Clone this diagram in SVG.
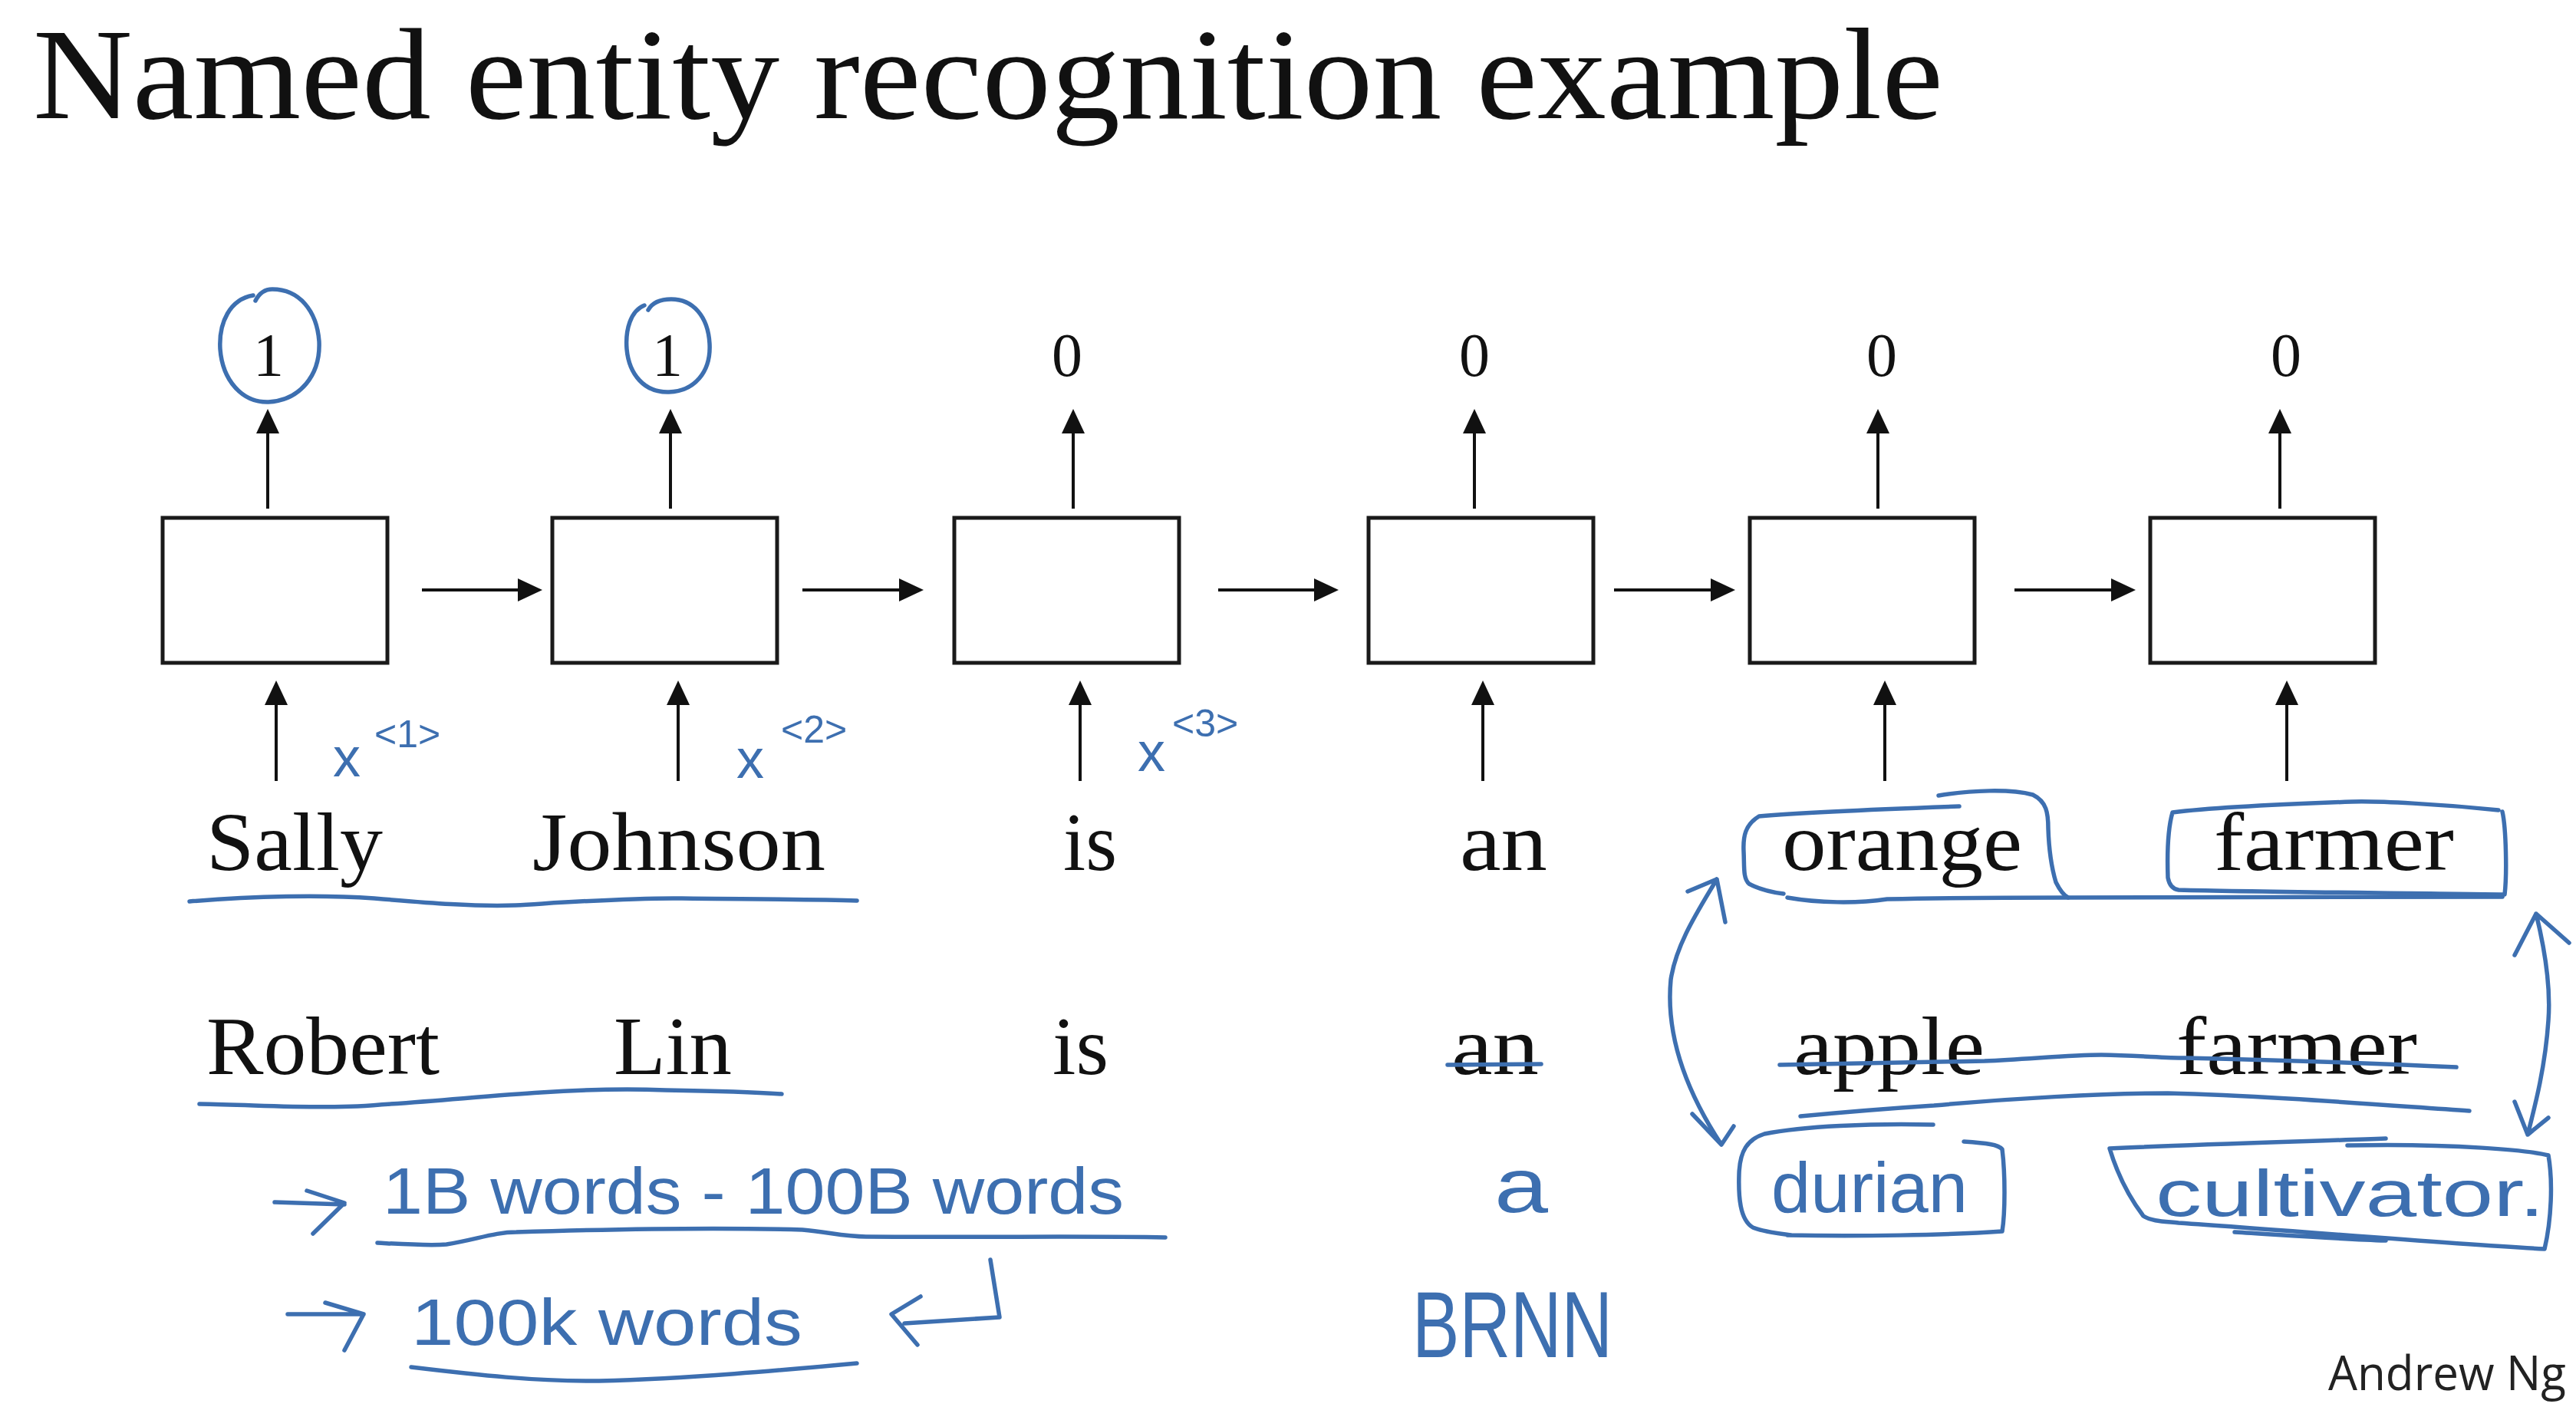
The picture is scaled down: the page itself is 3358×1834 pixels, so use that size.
<svg xmlns="http://www.w3.org/2000/svg" width="3358" height="1834" viewBox="0 0 3358 1834">
<style>
.serif{font-family:"Liberation Serif","DejaVu Serif",serif;fill:#111}
.box{fill:#fff;stroke:#1a1a1a;stroke-width:5}
.ln{stroke:#111;stroke-width:4;fill:none}
.ink{fill:none;stroke:#3d6fb0;stroke-width:5.5;stroke-linecap:round;stroke-linejoin:round}
.hand{font-family:"Liberation Sans","DejaVu Sans",sans-serif;fill:#3d6fb0}
</style>
<defs>
<marker id="ah" viewBox="0 0 32 30" refX="28" refY="15" markerWidth="32" markerHeight="30" markerUnits="userSpaceOnUse" orient="auto">
<path d="M0,0 L32,15 L0,30 z" fill="#111"/>
</marker>
</defs>
<rect width="3358" height="1834" fill="#fff"/>
<text id="title" class="serif" x="43" y="154" font-size="170" textLength="2490" lengthAdjust="spacingAndGlyphs">Named entity recognition example</text>

<g id="cell1"><rect class="box" x="212" y="675" width="293" height="189"/></g>
<g id="cell2"><rect class="box" x="720" y="675" width="293" height="189"/></g>
<g id="cell3"><rect class="box" x="1244" y="675" width="293" height="189"/></g>
<g id="cell4"><rect class="box" x="1784" y="675" width="293" height="189"/></g>
<g id="cell5"><rect class="box" x="2281" y="675" width="293" height="189"/></g>
<g id="cell6"><rect class="box" x="2803" y="675" width="293" height="189"/></g>

<g id="outputs" class="serif" font-size="80" text-anchor="middle">
<text x="350" y="490">1</text>
<text x="870" y="490">1</text>
<text x="1391" y="490">0</text>
<text x="1922" y="490">0</text>
<text x="2453" y="490">0</text>
<text x="2980" y="490">0</text>
</g>

<g id="connectors">
<line class="ln" x1="349" y1="663" x2="349" y2="537" marker-end="url(#ah)"/>
<line class="ln" x1="874" y1="663" x2="874" y2="537" marker-end="url(#ah)"/>
<line class="ln" x1="1399" y1="663" x2="1399" y2="537" marker-end="url(#ah)"/>
<line class="ln" x1="1922" y1="663" x2="1922" y2="537" marker-end="url(#ah)"/>
<line class="ln" x1="2448" y1="663" x2="2448" y2="537" marker-end="url(#ah)"/>
<line class="ln" x1="2972" y1="663" x2="2972" y2="537" marker-end="url(#ah)"/>
<line class="ln" x1="550" y1="769" x2="703" y2="769" marker-end="url(#ah)"/>
<line class="ln" x1="1046" y1="769" x2="1200" y2="769" marker-end="url(#ah)"/>
<line class="ln" x1="1588" y1="769" x2="1741" y2="769" marker-end="url(#ah)"/>
<line class="ln" x1="2104" y1="769" x2="2258" y2="769" marker-end="url(#ah)"/>
<line class="ln" x1="2626" y1="769" x2="2780" y2="769" marker-end="url(#ah)"/>
<line class="ln" x1="360" y1="1018" x2="360" y2="891" marker-end="url(#ah)"/>
<line class="ln" x1="884" y1="1018" x2="884" y2="891" marker-end="url(#ah)"/>
<line class="ln" x1="1408" y1="1018" x2="1408" y2="891" marker-end="url(#ah)"/>
<line class="ln" x1="1933" y1="1018" x2="1933" y2="891" marker-end="url(#ah)"/>
<line class="ln" x1="2457" y1="1018" x2="2457" y2="891" marker-end="url(#ah)"/>
<line class="ln" x1="2981" y1="1018" x2="2981" y2="891" marker-end="url(#ah)"/>
</g>

<g id="words1" class="serif" font-size="108">
<text x="269" y="1134" textLength="230" lengthAdjust="spacingAndGlyphs">Sally</text>
<text x="694" y="1134" textLength="382" lengthAdjust="spacingAndGlyphs">Johnson</text>
<text x="1386" y="1134" textLength="70" lengthAdjust="spacingAndGlyphs">is</text>
<text x="1903" y="1134" textLength="114" lengthAdjust="spacingAndGlyphs">an</text>
<text x="2323" y="1134" textLength="313" lengthAdjust="spacingAndGlyphs">orange</text>
<text x="2886" y="1134" textLength="313" lengthAdjust="spacingAndGlyphs">farmer</text>
</g>
<g id="words2" class="serif" font-size="108">
<text x="269" y="1400" textLength="304" lengthAdjust="spacingAndGlyphs">Robert</text>
<text x="800" y="1400" textLength="154" lengthAdjust="spacingAndGlyphs">Lin</text>
<text x="1372" y="1400" textLength="73" lengthAdjust="spacingAndGlyphs">is</text>
<text x="1892" y="1400" textLength="114" lengthAdjust="spacingAndGlyphs">an</text>
<text x="2338" y="1400" textLength="249" lengthAdjust="spacingAndGlyphs">apple</text>
<text x="2837" y="1400" textLength="314" lengthAdjust="spacingAndGlyphs">farmer</text>
</g>

<g id="annotations">
<path class="ink" d="M330,385 C300,390 285,420 287,455 C290,495 315,525 350,524 C390,522 418,490 416,445 C413,405 390,377 355,377 C345,377 338,382 333,392"/>
<path class="ink" d="M840,398 C822,405 815,430 817,455 C820,488 840,512 872,511 C905,510 927,485 925,448 C923,412 903,390 875,390 C860,390 850,395 845,404"/>

<text class="hand" font-size="72"><tspan x="434" y="1012">x</tspan><tspan x="488" y="974" font-size="50">&lt;1&gt;</tspan></text>
<text class="hand" font-size="72"><tspan x="960" y="1014">x</tspan><tspan x="1018" y="968" font-size="50">&lt;2&gt;</tspan></text>
<text class="hand" font-size="72"><tspan x="1483" y="1005">x</tspan><tspan x="1528" y="960" font-size="50">&lt;3&gt;</tspan></text>

<path class="ink" d="M247,1175 C330,1168 420,1166 488,1171 C560,1177 620,1182 672,1180 C740,1176 820,1170 889,1171 C980,1172 1060,1172 1117,1174"/>
<path class="ink" d="M260,1439 C330,1440 400,1445 466,1442 C560,1436 640,1428 705,1424 C780,1419 840,1420 868,1421 C930,1422 990,1424 1019,1426"/>

<path class="ink" d="M358,1567 L449,1570 M400,1552 L449,1568 L408,1608"/>
<text class="hand" x="499" y="1582" font-size="86" textLength="966" lengthAdjust="spacingAndGlyphs">1B words - 100B words</text>
<path class="ink" d="M492,1620 C530,1622 560,1624 582,1622 C620,1616 645,1606 673,1606 C800,1602 950,1600 1046,1603 C1080,1606 1100,1612 1129,1612 C1300,1613 1420,1611 1519,1613"/>

<path class="ink" d="M375,1713 L474,1713 M424,1698 L474,1713 L449,1760"/>
<text class="hand" x="536" y="1753" font-size="86" textLength="510" lengthAdjust="spacingAndGlyphs">100k words</text>
<path class="ink" d="M536,1782 C620,1792 700,1801 781,1800 C900,1797 1020,1786 1117,1777"/>
<path class="ink" d="M1291,1642 L1303,1717 L1179,1725 M1200,1690 L1162,1713 L1196,1753"/>

<text class="hand" x="1948" y="1580" font-size="100" textLength="70" lengthAdjust="spacingAndGlyphs">a</text>
<text class="hand" x="1841" y="1769" font-size="122" textLength="261" lengthAdjust="spacingAndGlyphs">BRNN</text>

<path class="ink" d="M2554,1051 C2470,1054 2360,1058 2293,1064 C2275,1075 2272,1090 2273,1110 C2274,1130 2272,1145 2280,1152 C2295,1160 2310,1163 2325,1165"/>
<path class="ink" d="M2527,1037 C2570,1030 2620,1028 2650,1036 C2668,1045 2670,1060 2670,1080 C2671,1110 2674,1130 2680,1150 C2686,1162 2692,1168 2696,1170"/>
<path class="ink" d="M2330,1170 C2370,1177 2420,1178 2460,1172 C2560,1170 2640,1170 2690,1170 C2900,1169 3100,1168 3262,1169"/>
<path class="ink" d="M3257,1056 C3180,1048 3100,1044 3066,1045 C2980,1048 2880,1053 2832,1059 C2826,1080 2825,1115 2826,1144 C2828,1155 2833,1159 2840,1160 C2950,1163 3150,1164 3265,1166 C3268,1140 3267,1080 3262,1058"/>

<path class="ink" d="M2238,1146 C2215,1185 2185,1230 2178,1277 C2172,1340 2190,1410 2244,1492 M2200,1162 L2238,1146 L2249,1202 M2206,1452 L2244,1492 L2260,1468"/>
<path class="ink" d="M3306,1191 C3318,1240 3325,1290 3322,1330 C3318,1390 3305,1440 3295,1479 M3278,1245 L3306,1191 L3349,1229 M3278,1436 L3295,1479 L3322,1457"/>

<path class="ink" d="M1887,1388 L2009,1387"/>
<path class="ink" d="M2320,1388 C2420,1386 2520,1385 2587,1383 C2650,1380 2700,1375 2739,1375 C2790,1376 2820,1379 2848,1379 C2980,1382 3100,1386 3202,1391"/>
<path class="ink" d="M2347,1455 C2400,1450 2460,1445 2521,1441 C2620,1432 2740,1425 2826,1425 C2950,1428 3100,1440 3219,1448"/>

<text class="hand" x="2309" y="1580" font-size="92" textLength="256" lengthAdjust="spacingAndGlyphs">durian</text>
<path class="ink" d="M2520,1466 C2440,1464 2350,1468 2300,1478 C2278,1485 2268,1500 2267,1530 C2266,1560 2268,1590 2285,1600 C2300,1606 2320,1608 2335,1610 M2560,1488 C2590,1490 2605,1492 2610,1498 C2614,1530 2614,1580 2610,1605 C2540,1610 2420,1612 2330,1610"/>
<text class="hand" x="2810" y="1585" font-size="86" textLength="507" lengthAdjust="spacingAndGlyphs">cultivator.</text>
<path class="ink" d="M3110,1484 C3000,1488 2850,1492 2750,1497 C2760,1530 2775,1560 2794,1585 C2805,1592 2820,1592 2840,1594 C3000,1605 3200,1622 3317,1628 C3326,1590 3328,1540 3322,1506 C3300,1500 3200,1490 3060,1493 M2913,1606 C2980,1610 3050,1615 3110,1617"/>
</g>

<text id="credit" x="3035" y="1812" font-family="'Open Sans','Liberation Sans',sans-serif" font-size="62" fill="#222" textLength="310" lengthAdjust="spacingAndGlyphs">Andrew Ng</text>
</svg>
